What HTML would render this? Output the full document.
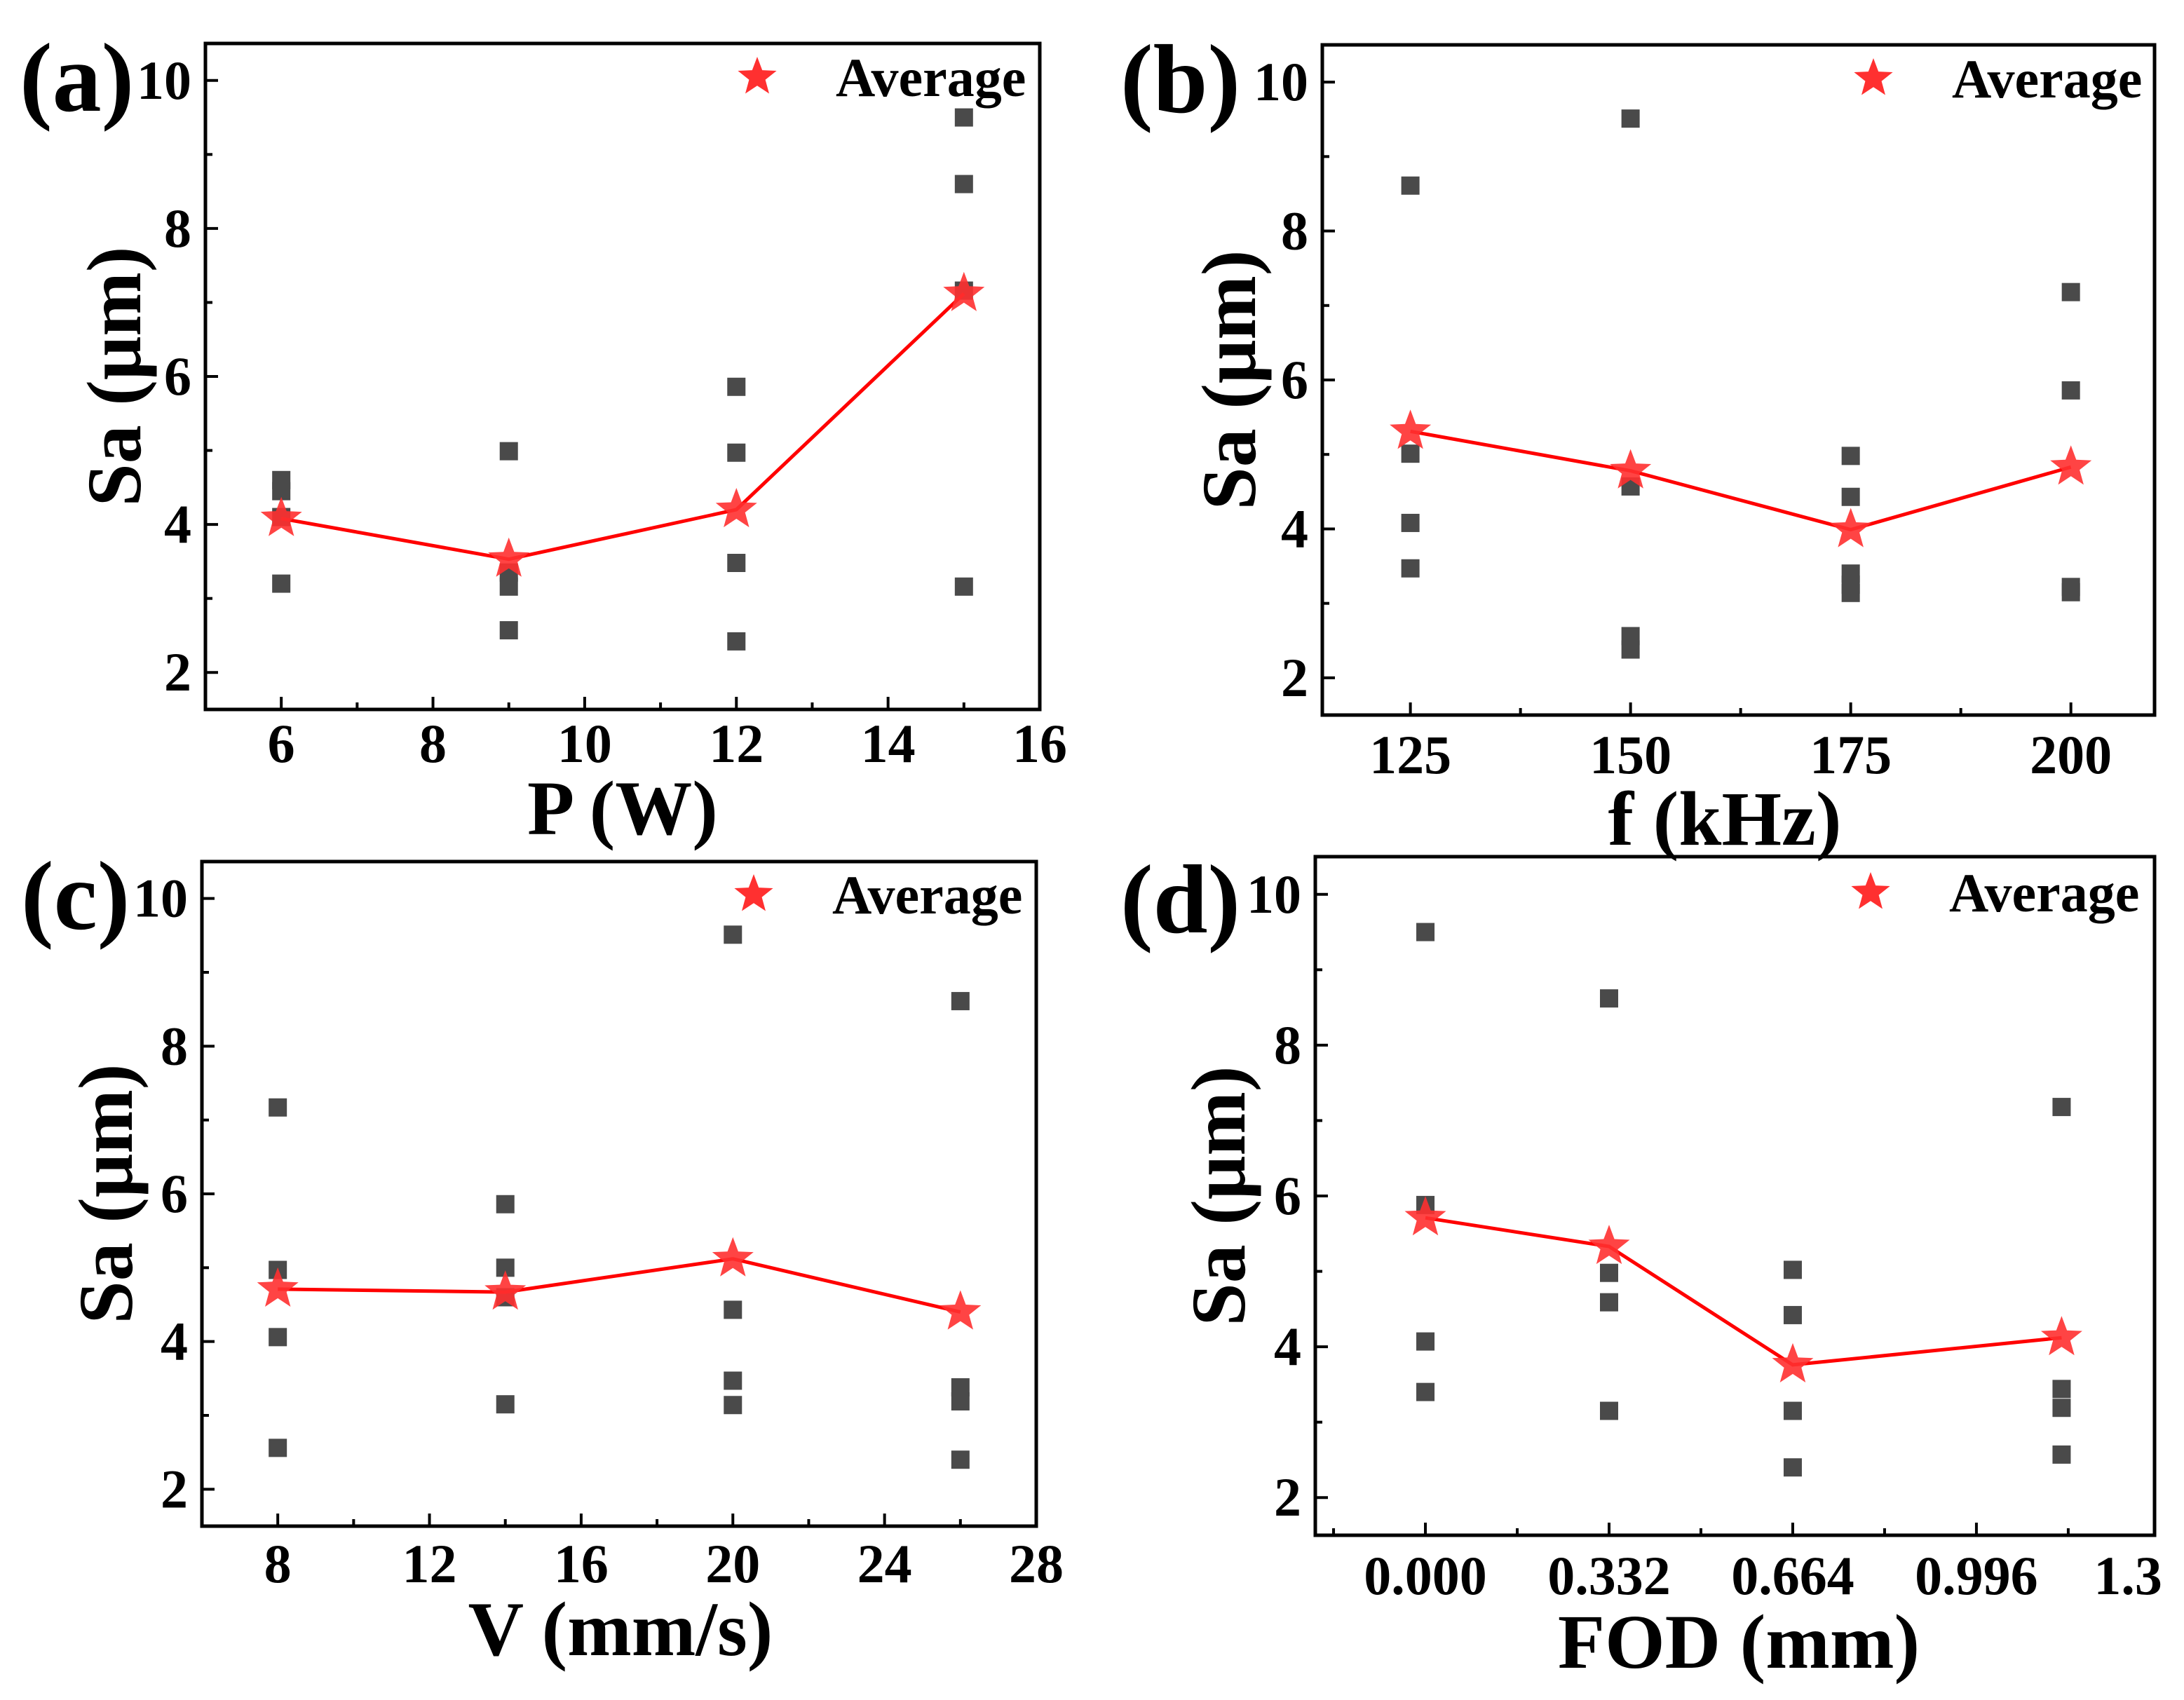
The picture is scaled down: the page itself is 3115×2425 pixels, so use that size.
<!DOCTYPE html>
<html><head><meta charset="utf-8"><style>
html,body{margin:0;padding:0;background:#fff;}
svg{display:block;font-family:"Liberation Serif",serif;font-weight:bold;}
</style></head><body>
<svg id="fig" width="3115" height="2425" viewBox="0 0 3115 2425" xmlns="http://www.w3.org/2000/svg"></svg>
<script>
// ---- data ----
const aX = [6, 9, 12, 15];
const aPts = [[4.60, 4.45, 4.1, 3.20], [4.99, 3.35, 3.16, 2.57], [5.86, 4.97, 3.48, 2.42], [9.50, 8.60, 7.16, 3.16]];
const aAvg = [4.08, 3.53, 4.20, 7.12];
const aTicks = [6, 8, 10, 12, 14, 16];
const bX = [125, 150, 175, 200];
const bPts = [[8.61, 5.01, 4.08, 3.47], [9.51, 4.57, 2.56, 2.38], [4.98, 4.43, 3.40, 3.25, 3.14], [7.18, 5.86, 3.22, 3.15]];
const bAvg = [5.31, 4.78, 3.99, 4.83];
const bTicks = [125, 150, 175, 200];
const cX = [8, 14, 20, 26];
const cPts = [[7.17, 4.97, 4.06, 2.56], [5.86, 5.00, 4.60, 3.15], [9.51, 4.43, 3.47, 3.14], [8.61, 3.38, 3.19, 2.40]];
const cAvg = [4.71, 4.67, 5.12, 4.40];
const cTicks = [8, 12, 16, 20, 24, 28];
const dX = [0, 0.332, 0.664, 1.15];
const dPts = [[9.50, 5.88, 4.07, 3.40], [8.62, 4.98, 4.59, 3.15], [5.02, 4.42, 3.15, 2.40], [7.18, 3.44, 3.19, 2.57]];
const dAvg = [5.71, 5.33, 3.76, 4.12];
const dTicks = [0, 0.332, 0.664, 0.996, 1.27];
const dTickLabels = ["0.000", "0.332", "0.664", "0.996", "1.3"];
const yTicks = [2, 4, 6, 8, 10];

const NS = "http://www.w3.org/2000/svg";
const svg = document.getElementById('fig');
function mk(tag, attrs, parent){const e=document.createElementNS(NS,tag);for(const k in attrs)e.setAttribute(k,attrs[k]);(parent||svg).appendChild(e);return e;}
function starPath(cx,cy,R){const r=R*0.42;let d='';for(let i=0;i<10;i++){const rr=i%2?r:R;const a=-Math.PI/2+i*Math.PI/5;d+=(i?'L':'M')+(cx+rr*Math.cos(a)).toFixed(1)+','+(cy+rr*Math.sin(a)).toFixed(1);}return d+'Z';}

function panel(o){
  const g=mk('g',{});
  
  
  const X=v=>o.L+(v-o.x0)/(o.x1-o.x0)*(o.R-o.L);
  const Y=v=>o.B-(v-1.5)/9*(o.B-o.T);
  for(let v=2;v<=10;v+=1){
    const major=v%2===0;
    const t=mk('line',{x1:o.L,x2:o.L+(major?18:10),y1:Y(v),y2:Y(v),stroke:'#000','stroke-width':4},g);
    
    
  }
  yTicks.forEach(v=>{
    const t=mk('text',{x:o.L-20,y:Y(v)+26,'text-anchor':'end','font-size':78},g);
    t.textContent=v;
    
    
  });
  o.minor.forEach(v=>{
    const t=mk('line',{x1:X(v),x2:X(v),y1:o.B,y2:o.B-10,stroke:'#000','stroke-width':4},g);
    
    
  });
  o.ticks.forEach((v,i)=>{
    if(o.tickMarks!==false || i<o.ticks.length-1){
      const t=mk('line',{x1:X(v),x2:X(v),y1:o.B,y2:o.B-18,stroke:'#000','stroke-width':4},g);
      
      
    }
    const l=mk('text',{x:X(v),y:o.xlabY,'text-anchor':'middle','font-size':78},g);
    l.textContent=o.labels?o.labels[i]:v;
    
    
  });
  o.pts.forEach((arr,i)=>arr.forEach(v=>{
    const s=mk('rect',{x:X(o.xs[i])-13,y:Y(v)-13,width:26,height:26,fill:'#4a4a4a'},g);
    
    
  }));
  const line=mk('polyline',{points:o.avg.map((v,i)=>X(o.xs[i])+','+Y(v)).join(' '),fill:'none',stroke:'#ff0000','stroke-width':5},g);
  
  
  o.avg.forEach((v,i)=>{
    const s=mk('path',{d:starPath(X(o.xs[i]),Y(v),31),fill:'#ff3030','fill-opacity':0.9},g);
    
    
  });
  const f=mk('rect',{x:o.L,y:o.T,width:o.R-o.L,height:o.B-o.T,fill:'none',stroke:'#000','stroke-width':5},g);
  
  
  const ls=mk('path',{d:starPath(o.legX,o.legY,29),fill:'#ff3030'},g);
  
  
  const lt=mk('text',{x:o.legX+112,y:o.legY+27,'font-size':78},g);
  lt.textContent='Average';
  
  
  const xt=mk('text',{x:o.xtX,y:o.xtY,'text-anchor':'middle','font-size':110},g);
  xt.textContent=o.xtitle;
  
  
  const yc=(o.T+o.B)/2;
  const yt=mk('text',{x:0,y:0,'text-anchor':'middle','font-size':110,transform:`translate(${o.ytX},${yc}) rotate(-90)`},g);
  yt.textContent='Sa (μm)';
  
  
  const pl=mk('text',{x:o.plX,y:o.plY,'font-size':140},g);
  pl.textContent='('+o.id+')';
  
  
}

panel({id:'a',L:293,R:1483,T:62,B:1012,x0:5,x1:16,xs:aX,pts:aPts,avg:aAvg,ticks:aTicks,minor:[7,9,11,13,15],
  xlabY:1087,xtitle:'P (W)',xtX:888,xtY:1190,ytX:200,plX:28,plY:158,legX:1080,legY:110});
panel({id:'b',L:1886,R:3073,T:64,B:1020,x0:115,x1:209.5,xs:bX,pts:bPts,avg:bAvg,ticks:bTicks,minor:[137.5,162.5,187.5],
  xlabY:1103,xtitle:'f (kHz)',xtX:2460,xtY:1205,ytX:1790,plX:1598,plY:160,legX:2672,legY:112});
panel({id:'c',L:288,R:1478,T:1229,B:2177,x0:6,x1:28,xs:cX,pts:cPts,avg:cAvg,ticks:cTicks,minor:[10,14,18,22,26],
  xlabY:2257,xtitle:'V (mm/s)',xtX:885,xtY:2361,ytX:188,plX:30,plY:1325,legX:1075,legY:1276});
panel({id:'d',L:1876,R:3073,T:1222,B:2190,x0:-0.199,x1:1.318,xs:dX,pts:dPts,avg:dAvg,ticks:dTicks,labels:dTickLabels,tickMarks:false,minor:[-0.166,0.166,0.498,0.830,1.162],
  xlabY:2274,xtitle:'FOD (mm)',xtX:2480,xtY:2379,ytX:1775,plX:1598,plY:1330,legX:2668,legY:1273});
</script>
</body></html>
